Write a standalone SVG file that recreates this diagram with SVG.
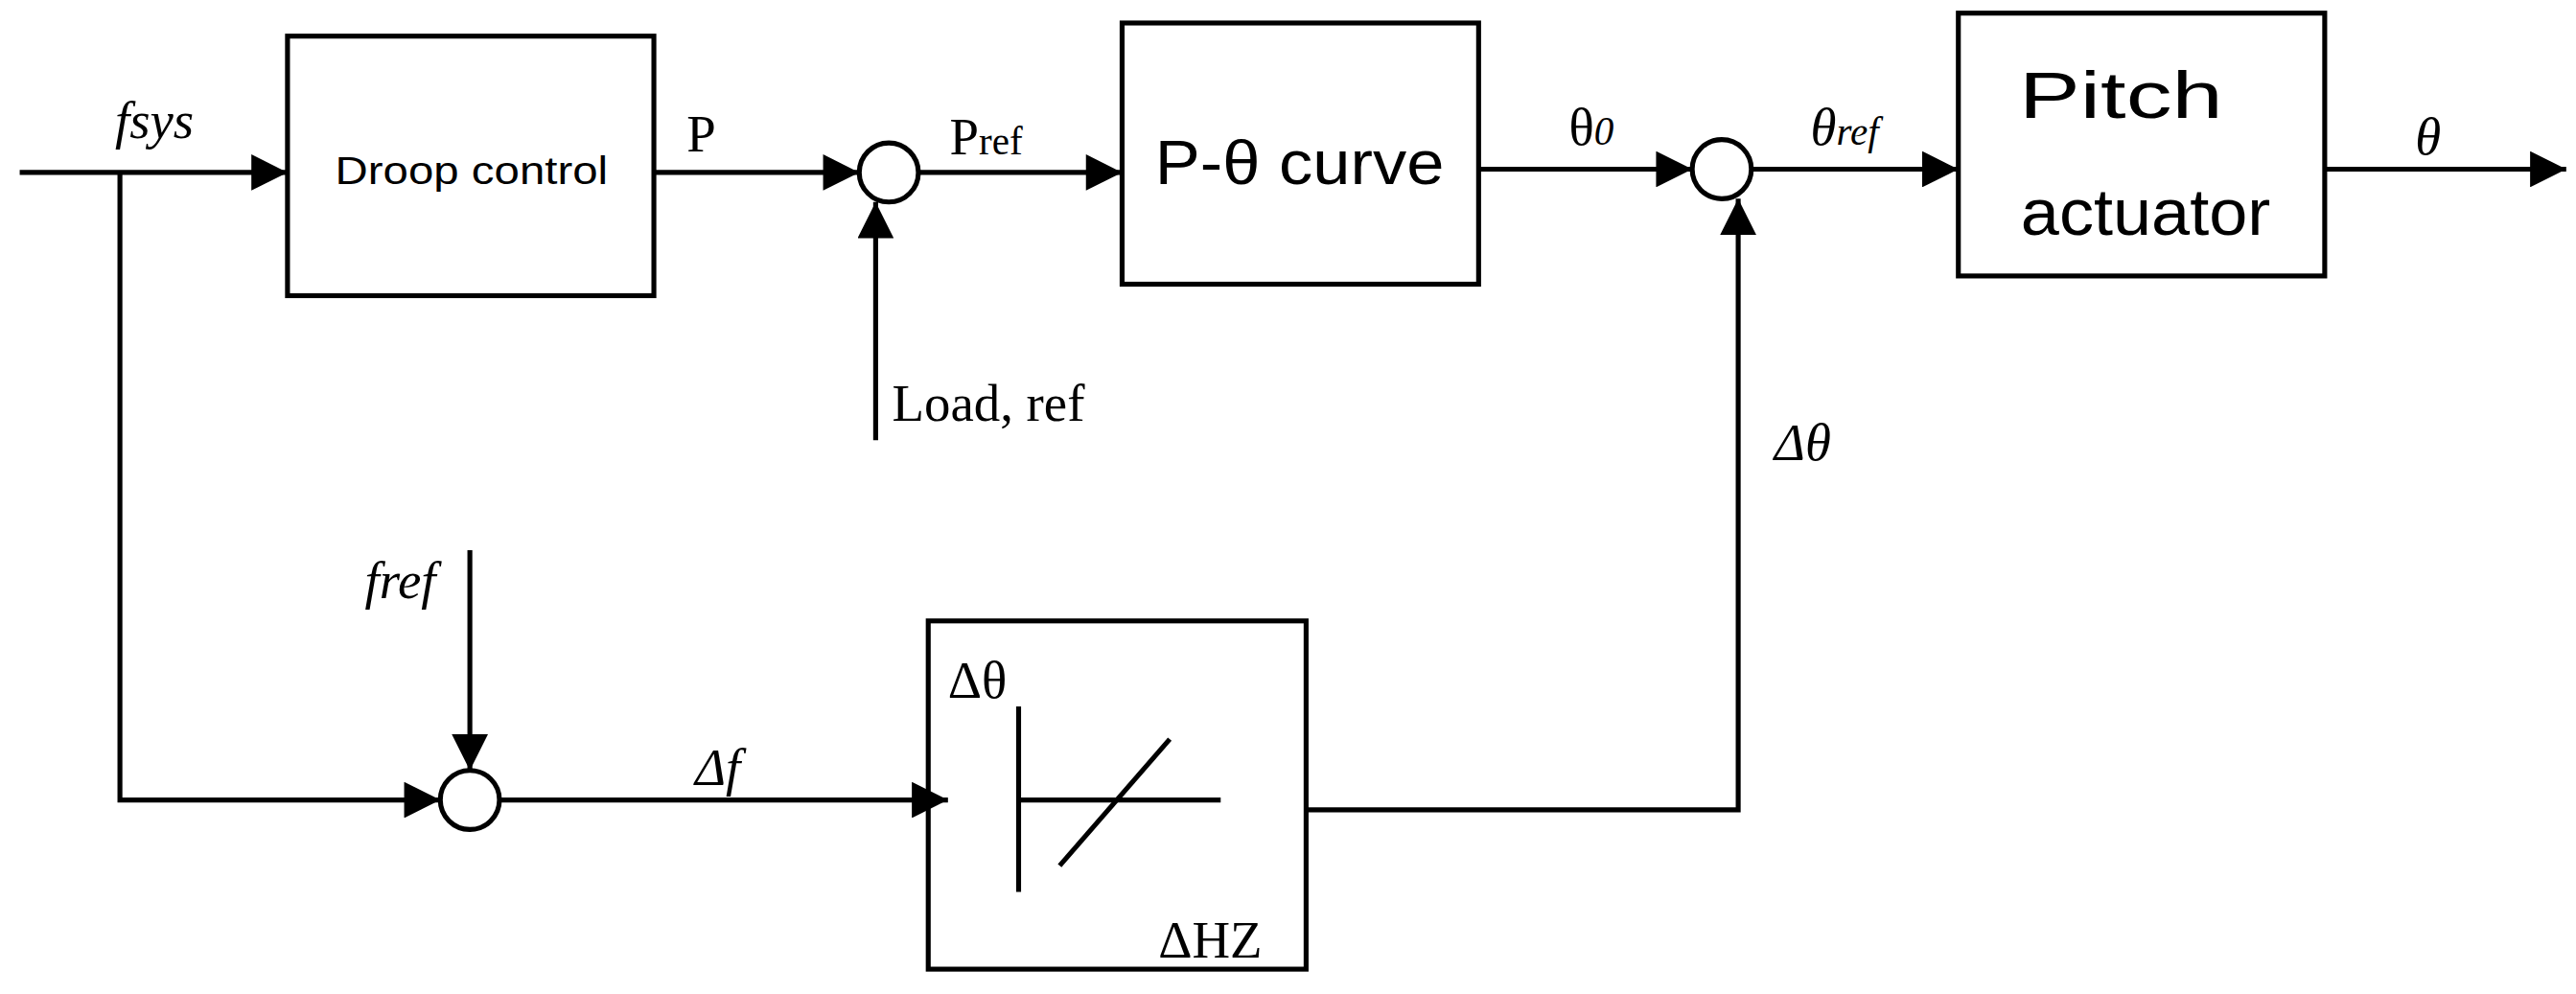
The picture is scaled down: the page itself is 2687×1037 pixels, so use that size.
<svg xmlns="http://www.w3.org/2000/svg" width="2687" height="1037" viewBox="0 0 2687 1037">
<style>
.b{fill:none;stroke:#000;stroke-width:3}
.l{fill:none;stroke:#000;stroke-width:3;marker-end:url(#ar2)}
text{font-family:"Liberation Serif",serif;fill:#000}
.s{font-family:"Liberation Sans",sans-serif}
.i{font-style:italic}
</style>
<defs>
<marker id="ar2" viewBox="0 0 10 10" refX="10" refY="5" markerWidth="32" markerHeight="22" markerUnits="userSpaceOnUse" orient="auto"><path d="M0,0L10,5L0,10z" fill="#000"/></marker></defs>
<rect width="2687" height="1037" fill="#fff"/>
<g transform="scale(1.7137)">
<g id="connectors">
<line class="l" x1="12" y1="105" x2="175" y2="105"/>
<line class="l" x1="398" y1="105" x2="523" y2="105"/>
<line class="l" x1="560" y1="105" x2="683" y2="105"/>
<line class="l" x1="900" y1="103" x2="1030" y2="103"/>
<line class="l" x1="1067" y1="103" x2="1192" y2="103"/>
<line class="l" x1="1415" y1="103" x2="1562" y2="103"/>
<line class="l" x1="533" y1="268" x2="533" y2="123"/>
<polyline class="l" points="73,105 73,487 268,487"/>
<line class="l" x1="286" y1="335" x2="286" y2="469"/>
<line class="l" x1="304" y1="487" x2="577" y2="487"/>
<polyline class="l" points="795,493 1058,493 1058,121"/>
</g>
<g id="droop"><rect class="b" x="175" y="22" width="223" height="158"/><text class="s" x="287" y="112" font-size="24" text-anchor="middle" textLength="166" lengthAdjust="spacingAndGlyphs">Droop control</text></g>
<g id="sum1"><circle class="b" cx="541" cy="105" r="18" fill="#fff"/></g>
<g id="ptheta"><rect class="b" x="683" y="14" width="217" height="159"/><text class="s" x="791" y="112" font-size="38" text-anchor="middle" textLength="176" lengthAdjust="spacingAndGlyphs">P-θ curve</text></g>
<g id="sum2"><circle class="b" cx="1048" cy="103" r="18" fill="#fff"/></g>
<g id="pitch"><rect class="b" x="1192" y="8" width="223" height="160"/><text class="s" x="1291" y="72" font-size="40" text-anchor="middle" textLength="124" lengthAdjust="spacingAndGlyphs">Pitch</text><text class="s" x="1306" y="143" font-size="40" text-anchor="middle" textLength="152" lengthAdjust="spacingAndGlyphs">actuator</text></g>
<g id="sum3"><circle class="b" cx="286" cy="487" r="18" fill="#fff"/></g>
<g id="deadband"><rect class="b" x="565" y="378" width="230" height="212"/>
<line class="b" x1="620" y1="430" x2="620" y2="543" stroke-width="4"/><line class="b" x1="620" y1="487" x2="743" y2="487"/><line class="b" x1="645" y1="527" x2="712" y2="450"/>
<text x="577" y="425" font-size="32">Δθ</text><text x="705" y="583" font-size="32">ΔHZ</text></g>
<g id="labels" font-size="32">
<text class="i" x="70" y="84">fsys</text>
<text x="418" y="92">P</text>
<text x="578" y="94">P<tspan font-size="24">ref</tspan></text>
<text x="955" y="88">θ<tspan class="i" font-size="24">0</tspan></text>
<text class="i" x="1102" y="88">θ<tspan font-size="24">ref</tspan></text>
<text class="i" x="1470" y="94">θ</text>
<text x="543" y="256">Load, ref</text>
<text class="i" x="1080" y="280">Δθ</text>
<text class="i" x="222" y="364">fref</text>
<text class="i" x="423" y="478">Δf</text>
</g>
</g>
</svg>
